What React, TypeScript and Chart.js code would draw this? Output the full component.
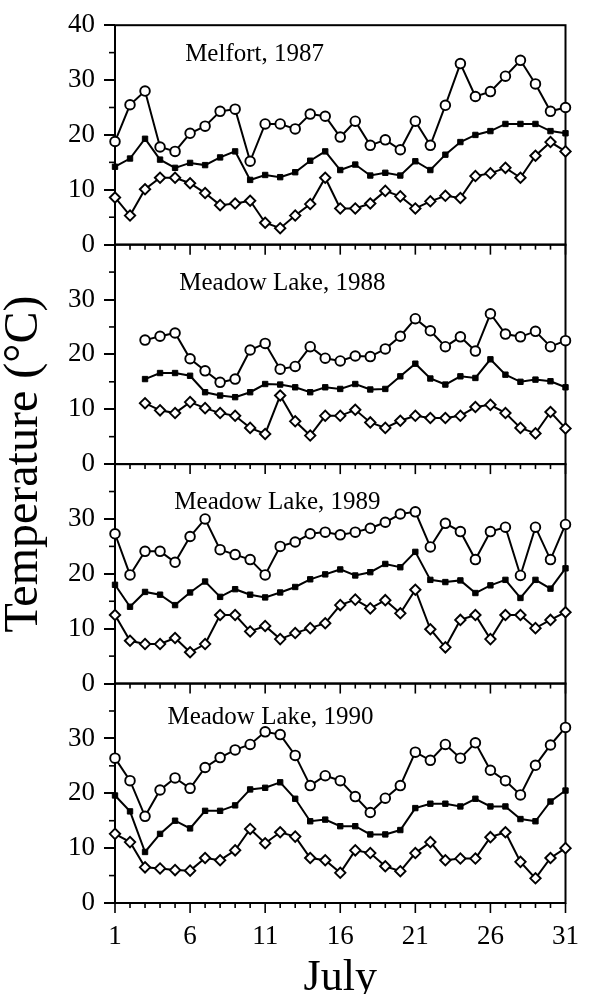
import React, { useEffect, useRef } from 'react';
import { Chart, registerables } from 'chart.js';

Chart.register(...registerables);

const FONT = '"Liberation Serif", "Times New Roman", serif';

const DAYS = [1, 2, 3, 4, 5, 6, 7, 8, 9, 10, 11, 12, 13, 14, 15, 16, 17, 18, 19, 20, 21, 22, 23, 24, 25, 26, 27, 28, 29, 30, 31];
const X_TICKS = [1, 6, 11, 16, 21, 26, 31];
const Y_TICKS = [0, 5, 10, 15, 20, 25, 30, 35, 40];
const Y_LABELS = [0, 10, 20, 30];
const Y_TOP_LABEL = 40;

const PANEL_TITLES = ['Melfort, 1987', 'Meadow Lake, 1988', 'Meadow Lake, 1989', 'Meadow Lake, 1990'];

// Melfort 1987
const P1_MAX = [18.8, 25.5, 28.0, 17.8, 17.0, 20.3, 21.6, 24.3, 24.7, 15.2, 22.0, 22.0, 21.1, 23.8, 23.4, 19.6, 22.5, 18.1, 19.1, 17.3, 22.5, 18.1, 25.4, 33.0, 27.0, 27.9, 30.7, 33.6, 29.3, 24.3, 25.0];
const P1_MEAN = [14.2, 15.7, 19.3, 15.5, 14.0, 14.9, 14.5, 15.9, 17.0, 11.8, 12.7, 12.3, 13.2, 15.3, 17.0, 13.6, 14.6, 12.6, 13.1, 12.6, 15.2, 13.6, 16.4, 18.7, 20.0, 20.7, 22.0, 22.0, 22.0, 20.7, 20.3];
const P1_MIN = [8.6, 5.3, 10.1, 12.2, 12.2, 11.2, 9.4, 7.2, 7.5, 8.0, 4.0, 3.0, 5.3, 7.4, 12.2, 6.6, 6.6, 7.5, 9.8, 8.8, 6.6, 7.9, 8.9, 8.5, 12.5, 13.0, 14.0, 12.2, 16.2, 18.7, 17.0];

// Meadow Lake 1988
const P2_MAX = [null, null, 22.6, 23.3, 23.9, 19.2, 17.0, 14.9, 15.5, 20.8, 22.0, 17.3, 17.8, 21.4, 19.3, 18.8, 19.7, 19.6, 21.0, 23.3, 26.5, 24.3, 21.4, 23.2, 20.6, 27.4, 23.7, 23.2, 24.2, 21.4, 22.5];
const P2_MEAN = [null, null, 15.5, 16.6, 16.6, 16.1, 13.1, 12.5, 12.2, 13.1, 14.6, 14.5, 14.0, 13.1, 14.0, 13.7, 14.6, 13.6, 13.7, 16.0, 18.3, 15.6, 14.5, 16.0, 15.7, 19.1, 16.3, 15.0, 15.4, 15.1, 14.0];
const P2_MIN = [null, null, 11.1, 9.8, 9.3, 11.3, 10.2, 9.3, 8.8, 6.6, 5.5, 12.5, 7.8, 5.2, 8.8, 8.8, 9.9, 7.6, 6.6, 7.9, 8.8, 8.4, 8.4, 8.8, 10.4, 10.8, 9.3, 6.6, 5.6, 9.5, 6.5];

// Meadow Lake 1989
const P3_MAX = [27.3, 19.8, 24.1, 24.1, 22.1, 26.8, 30.0, 24.4, 23.5, 22.6, 19.8, 25.0, 25.8, 27.3, 27.6, 27.1, 27.6, 28.3, 29.4, 30.9, 31.3, 24.9, 29.2, 27.7, 22.6, 27.7, 28.5, 19.7, 28.5, 22.6, 29.0];
const P3_MEAN = [18.0, 14.0, 16.7, 16.2, 14.3, 16.6, 18.6, 15.8, 17.2, 16.2, 15.7, 16.6, 17.6, 19.0, 19.9, 20.8, 19.7, 20.3, 21.8, 21.2, 24.0, 18.9, 18.5, 18.8, 16.5, 17.9, 18.9, 15.6, 18.9, 17.3, 21.0];
const P3_MIN = [12.5, 7.8, 7.2, 7.2, 8.3, 5.7, 7.2, 12.5, 12.5, 9.5, 10.5, 8.1, 9.2, 10.1, 11.0, 14.3, 15.3, 13.7, 15.2, 12.8, 17.1, 9.9, 6.6, 11.6, 12.5, 8.1, 12.5, 12.5, 10.1, 11.6, 13.0];

// Meadow Lake 1990
const P4_MAX = [26.4, 22.3, 15.8, 20.6, 22.8, 20.9, 24.7, 26.5, 27.9, 28.9, 31.2, 30.7, 26.9, 21.4, 23.2, 22.3, 19.4, 16.5, 19.1, 21.4, 27.5, 26.0, 28.9, 26.4, 29.2, 24.2, 22.3, 19.7, 25.1, 28.8, 32.0];
const P4_MEAN = [19.6, 16.7, 9.3, 12.6, 15.0, 13.6, 16.8, 16.8, 17.8, 20.7, 21.0, 22.0, 19.0, 14.9, 15.2, 14.0, 14.0, 12.5, 12.5, 13.3, 17.3, 18.1, 18.1, 17.6, 19.0, 17.6, 17.6, 15.3, 14.9, 18.5, 20.5];
const P4_MIN = [12.6, 11.1, 6.5, 6.3, 6.0, 5.9, 8.2, 7.8, 9.6, 13.5, 10.9, 12.9, 12.1, 8.2, 7.8, 5.5, 9.6, 9.1, 6.7, 5.8, 9.1, 11.1, 7.8, 8.1, 8.1, 12.0, 12.9, 7.5, 4.5, 8.2, 10.0];

const PANEL_SERIES = [
  [P1_MAX, P1_MEAN, P1_MIN],
  [P2_MAX, P2_MEAN, P2_MIN],
  [P3_MAX, P3_MEAN, P3_MIN],
  [P4_MAX, P4_MEAN, P4_MIN],
];

const PANEL_IDS = ['y1', 'y2', 'y3', 'y4'];
// title anchor (left edge, baseline) in data units of each panel
const TITLE_ANCHORS = [
  { day: 5.67, temp: 33.5 },
  { day: 5.28, temp: 31.7 },
  { day: 4.95, temp: 31.9 },
  { day: 4.49, temp: 32.7 },
];

const toPoints = (arr: (number | null)[]) =>
  DAYS.map((d, i) => ({ x: d, y: arr[i] })).filter((p) => p.y !== null);

const panelsPlugin = {
  id: 'panels',
  beforeDatasetsDraw(chart: any) {
    const ctx = chart.ctx;
    const { left, right } = chart.chartArea;
    const xs = chart.scales.x;
    ctx.save();
    ctx.strokeStyle = '#000';
    ctx.fillStyle = '#000';
    PANEL_IDS.forEach((id, i) => {
      const s = chart.scales[id];
      ctx.lineWidth = 2;
      ctx.strokeRect(left, s.top, right - left, s.bottom - s.top);
      ctx.lineWidth = 1.6;
      DAYS.forEach((d) => {
        const x = xs.getPixelForValue(d);
        const len = X_TICKS.includes(d) ? 10 : 5;
        ctx.beginPath();
        ctx.moveTo(x, s.bottom);
        ctx.lineTo(x, s.bottom + len);
        ctx.stroke();
      });
      Y_TICKS.filter((v) => v % 10 !== 0).forEach((v) => {
        const y = s.getPixelForValue(v);
        ctx.beginPath();
        ctx.moveTo(left - 6, y);
        ctx.lineTo(left, y);
        ctx.stroke();
      });
      ctx.font = `25px ${FONT}`;
      ctx.textAlign = 'left';
      ctx.textBaseline = 'alphabetic';
      ctx.fillText(
        PANEL_TITLES[i],
        xs.getPixelForValue(TITLE_ANCHORS[i].day),
        s.getPixelForValue(TITLE_ANCHORS[i].temp)
      );
    });
    ctx.restore();
  },
};

function makeYScale(isTop: boolean) {
  return {
    type: 'linear',
    position: 'left',
    stack: 'panels',
    stackWeight: 1,
    min: 0,
    max: 40,
    afterBuildTicks: (scale: any) => {
      scale.ticks = Y_TICKS.map((v) => ({ value: v }));
    },
    afterFit: (scale: any) => {
      scale.width = 65;
    },
    border: { display: false },
    grid: {
      drawOnChartArea: false,
      drawTicks: true,
      tickLength: 11,
      lineWidth: 2,
      color: (c: any) => (c.tick && c.tick.value % 10 === 0 ? '#000' : 'rgba(0,0,0,0)'),
    },
    ticks: {
      autoSkip: false,
      padding: 9,
      color: '#000',
      font: { family: FONT, size: 27 },
      callback: (v: number) =>
        Y_LABELS.includes(v) || (isTop && v === Y_TOP_LABEL) ? String(v) : '',
    },
  };
}

export default function App() {
  const ref = useRef<HTMLCanvasElement>(null);
  useEffect(() => {
    if (!ref.current) return;
    const datasets: any[] = [];
    PANEL_SERIES.forEach((series, p) => {
      const [mx, mn, lo] = series;
      const common = {
        yAxisID: PANEL_IDS[p],
        borderColor: '#000',
        borderWidth: 2,
        pointBorderColor: '#000',
        clip: false,
        tension: 0,
      };
      datasets.push({
        ...common,
        data: toPoints(mx),
        pointStyle: 'circle',
        pointRadius: 4.8,
        pointBorderWidth: 1.9,
        pointBackgroundColor: '#fff',
      });
      datasets.push({
        ...common,
        data: toPoints(mn),
        pointStyle: 'rect',
        pointRadius: 3.8,
        pointBorderWidth: 1,
        pointBackgroundColor: '#000',
      });
      datasets.push({
        ...common,
        data: toPoints(lo),
        pointStyle: 'rectRot',
        pointRadius: 5.2,
        pointBorderWidth: 1.9,
        pointBackgroundColor: '#fff',
      });
    });

    const chart = new Chart(ref.current, {
      type: 'line',
      data: { datasets },
      plugins: [panelsPlugin],
      options: {
        animation: false,
        responsive: false,
        events: [],
        layout: { padding: { top: 20, right: 26, left: 0, bottom: 0 } },
        plugins: {
          legend: { display: false },
          tooltip: { enabled: false },
          title: {
            display: true,
            position: 'left',
            fullSize: false,
            text: 'Temperature (°C)',
            color: '#000',
            font: { family: FONT, size: 48, weight: 'normal', lineHeight: 1 },
            padding: { top: 0, bottom: 2 },
          },
        },
        scales: {
          x: {
            type: 'linear',
            position: 'bottom',
            min: 1,
            max: 31,
            afterBuildTicks: (scale: any) => {
              scale.ticks = X_TICKS.map((v) => ({ value: v }));
            },
            afterFit: (scale: any) => {
              scale.height = 107;
            },
            border: { display: false },
            grid: { display: false, drawTicks: false },
            ticks: {
              padding: 18,
              color: '#000',
              maxRotation: 0,
              autoSkip: false,
              font: { family: FONT, size: 27 },
            },
            title: {
              display: true,
              text: 'July',
              color: '#000',
              font: { family: FONT, size: 44 },
              padding: { top: 0, bottom: 5 },
            },
          },
          y4: makeYScale(false),
          y3: makeYScale(false),
          y2: makeYScale(false),
          y1: makeYScale(true),
        } as any,
      },
    } as any);
    return () => chart.destroy();
  }, []);

  return (
    <div style={{ position: 'fixed', left: 0, top: 0, width: 597, height: 1010, background: '#fff' }}>
      <canvas ref={ref} width={597} height={1010} style={{ display: 'block' }} />
    </div>
  );
}
